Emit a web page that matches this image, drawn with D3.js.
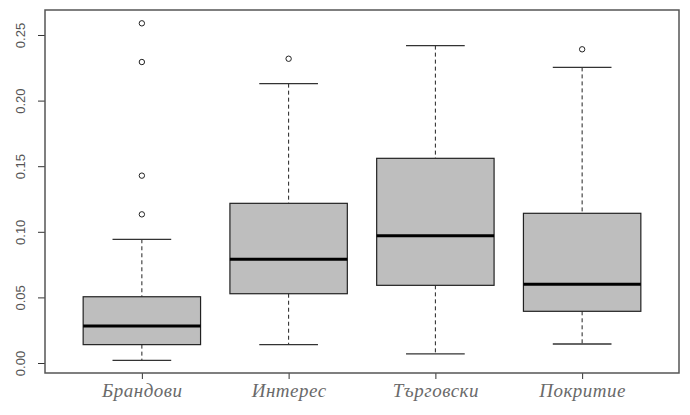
<!DOCTYPE html>
<html>
<head>
<meta charset="utf-8">
<script src="https://cdn.jsdelivr.net/npm/d3@7"></script>
<style>
  body { margin: 0; background: #fff; }
  svg { display: block; }
</style>
</head>
<body>
<svg id="box-chart"></svg>
<script>
// values
const categories = ['Брандови', 'Интерес', 'Търговски', 'Покритие'];
const lowerWhisker = [0.0020, 0.0140, 0.0069, 0.0145];
const q1 = [0.0140, 0.0528, 0.0592, 0.0394];
const median = [0.0282, 0.0790, 0.0970, 0.0600];
const q3 = [0.0505, 0.1217, 0.1560, 0.1141];
const upperWhisker = [0.0943, 0.2129, 0.2419, 0.2253];
const outliers = [
  [0.2589, 0.2294, 0.1428, 0.1133],
  [0.2319],
  [],
  [0.2391]
];
const yTicks = [0, 0.05, 0.10, 0.15, 0.20, 0.25];

const width = 690, height = 415;
const margin = { top: 10, right: 11, bottom: 42, left: 45 };

const svg = d3.select('svg#box-chart')
  .attr('width', width)
  .attr('height', height);

const x = d3.scalePoint()
  .domain(categories)
  .range([margin.left, width - margin.right])
  .padding(0.66);

const y = d3.scaleLinear()
  .domain([-0.00762, 0.26905])
  .range([height - margin.bottom, margin.top]);

const step = x.step();
const boxW = step * 0.8;
const capW = step * 0.4;

const data = categories.map((c, i) => ({
  cat: c,
  lo: lowerWhisker[i],
  q1: q1[i],
  med: median[i],
  q3: q3[i],
  hi: upperWhisker[i],
  out: outliers[i]
}));

const g = svg.append('g');

const box = g.selectAll('.box').data(data)
  .enter().append('g')
  .attr('class', 'box')
  .attr('transform', d => `translate(${x(d.cat)},0)`);

// dashed whiskers
box.append('line')
  .attr('y1', d => y(d.hi)).attr('y2', d => y(d.q3))
  .attr('stroke', '#222').attr('stroke-dasharray', '4,3');
box.append('line')
  .attr('y1', d => y(d.q1)).attr('y2', d => y(d.lo))
  .attr('stroke', '#222').attr('stroke-dasharray', '4,3');

// caps
box.append('line')
  .attr('x1', -capW / 2).attr('x2', capW / 2)
  .attr('y1', d => y(d.hi)).attr('y2', d => y(d.hi))
  .attr('stroke', '#333').attr('stroke-width', 1.3);
box.append('line')
  .attr('x1', -capW / 2).attr('x2', capW / 2)
  .attr('y1', d => y(d.lo)).attr('y2', d => y(d.lo))
  .attr('stroke', '#333').attr('stroke-width', 1.3);

box.append('rect')
  .attr('x', -boxW / 2)
  .attr('width', boxW)
  .attr('y', d => y(d.q3))
  .attr('height', d => y(d.q1) - y(d.q3))
  .attr('fill', '#bebebe')
  .attr('stroke', '#222')
  .attr('stroke-width', 1.2);

box.append('line')
  .attr('x1', -boxW / 2).attr('x2', boxW / 2)
  .attr('y1', d => y(d.med)).attr('y2', d => y(d.med))
  .attr('stroke', '#000').attr('stroke-width', 3);

box.selectAll('circle').data(d => d.out)
  .enter().append('circle')
  .attr('cy', v => y(v))
  .attr('r', 2.7)
  .attr('fill', 'none')
  .attr('stroke', '#222')
  .attr('stroke-width', 1);

// y axis
const yAxisG = svg.append('g')
  .attr('transform', `translate(${margin.left},0)`)
  .call(d3.axisLeft(y).tickValues(yTicks).tickFormat(d3.format('.2f')).tickSize(7));
yAxisG.select('.domain').remove();
yAxisG.selectAll('line').attr('stroke', '#333');
yAxisG.selectAll('text')
  .attr('transform', 'rotate(-90)')
  .attr('x', 0)
  .attr('y', -20)
  .attr('dy', 0)
  .attr('text-anchor', 'middle')
  .attr('fill', '#555')
  .style('font-family', 'Liberation Sans, Arial, sans-serif')
  .style('font-size', '13px');

// x axis
const xAxisG = svg.append('g')
  .attr('transform', `translate(0,${height - margin.bottom})`)
  .call(d3.axisBottom(x).tickSize(6));
xAxisG.select('.domain').remove();
xAxisG.selectAll('line').attr('stroke', '#333');
xAxisG.selectAll('text')
  .attr('y', 24)
  .attr('dy', 0)
  .attr('fill', '#6a6a6a')
  .style('font-family', 'Liberation Serif, Times New Roman, serif')
  .style('font-style', 'italic')
  .style('font-size', '19px')
  .style('letter-spacing', '0.5px');

// frame
svg.append('rect')
  .attr('x', margin.left)
  .attr('y', margin.top)
  .attr('width', width - margin.left - margin.right)
  .attr('height', height - margin.top - margin.bottom)
  .attr('fill', 'none')
  .attr('stroke', '#555')
  .attr('stroke-width', 1.5);
</script>
</body>
</html>
